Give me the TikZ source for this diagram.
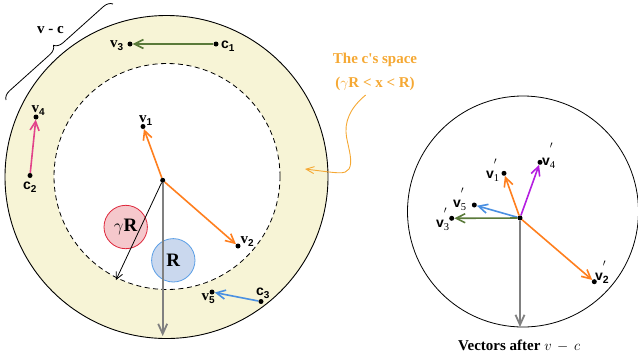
\documentclass[tikz,border=0pt]{standalone}
\usepackage{fontspec}
\setmainfont{Liberation Serif}
\setsansfont{Liberation Sans}
\usetikzlibrary{arrows.meta,decorations.pathreplacing}
\definecolor{annulus}{RGB}{247,244,214}
\definecolor{vorange}{RGB}{255,127,30}
\definecolor{vgreen}{RGB}{90,122,58}
\definecolor{vpink}{RGB}{226,68,138}
\definecolor{vblue}{RGB}{74,144,226}
\definecolor{vpurple}{RGB}{180,30,224}
\definecolor{vgray}{RGB}{128,128,128}
\definecolor{noteorange}{RGB}{245,168,51}
\definecolor{redfill}{RGB}{245,200,204}
\definecolor{redline}{RGB}{222,40,60}
\definecolor{bluefill}{RGB}{202,216,238}
\definecolor{blueline}{RGB}{90,158,230}
\newcommand{\Lv}[1]{\textbf{v}\raisebox{-3pt}{\fontsize{10}{10}\selectfont\sffamily\bfseries #1}}
\newcommand{\Lc}[1]{{\sffamily\bfseries c}\raisebox{-3pt}{\fontsize{10}{10}\selectfont\sffamily\bfseries #1}}
\newcommand{\Rprime}{\rlap{\raisebox{13.5pt}{$\scriptstyle\prime$}}}
\newcommand{\Rv}[1]{{\sffamily\bfseries v}\Rprime\raisebox{-3.5pt}{\fontsize{10.5}{10.5}\selectfont #1}}
\begin{document}
\begin{tikzpicture}[x=1pt,y=-1pt,
  pt/.style={circle,inner sep=0pt,minimum size=5pt},
  lab/.style={anchor=base west,inner sep=0pt,font=\fontsize{15}{15}\selectfont},
  rlab/.style={anchor=base west,inner sep=0pt,font=\fontsize{14}{14}\selectfont},
  vec/.style={line width=1.6pt,-{Straight Barb[length=9pt,width=9pt]}},
  grayvec/.style={line width=1.8pt,draw=vgray,-{Straight Barb[length=10pt,width=9pt]}},
  thinvec/.style={line width=0.8pt,-{Straight Barb[length=7pt,width=7pt]}},
  notevec/.style={line width=0.9pt,draw=noteorange,-{Straight Barb[length=8pt,width=7pt]}},
  ring/.style={circle,inner sep=0pt,minimum size=43.4pt,line width=0.8pt}
 ]
\useasboundingbox (0,0) rectangle (638,360);

% ---------- left picture ----------
\draw[line width=0.9pt,fill=annulus] (166.5,177) circle (161.5pt);
\draw[line width=0.8pt,fill=white,dash pattern=on 5pt off 3.5pt] (167,176.5) circle (113pt);

\node[ring,draw=redline,fill=redfill] (gR) at (125.7,227) {};
\node[ring,draw=blueline,fill=bluefill] (RR) at (173.3,260.3) {};

\node[pt] (O) at (162.7,180.3) {};
\node[pt] (c1) at (216,44) {};
\node[pt] (v3) at (130,44) {};
\node[pt] (v4) at (36,117) {};
\node[pt] (c2) at (30,175.5) {};
\node[pt] (v1) at (143,126.5) {};
\node[pt] (v2) at (238,246) {};
\node[pt] (v5) at (212,292) {};
\node[pt] (c3) at (261,301.5) {};
\coordinate (bot) at (162.7,336);
\coordinate (gend) at (116,280);

\draw[vec,vgreen] (c1) -- (v3);
\draw[vec,vpink] (c2) -- (v4);
\draw[vec,vorange] (O) -- (v1);
\draw[vec,vorange] (O) -- (v2);
\draw[vec,vblue] (c3) -- (v5);
\draw[grayvec] (O) -- (bot);
\draw[thinvec] (O) -- (gend);

\node[inner sep=0pt,font=\fontsize{19}{19}\selectfont] (gRt) at (gR) {$\gamma$\textbf{R}};
\node[inner sep=0pt,font=\fontsize{19}{19}\selectfont] (RRt) at (RR) {\textbf{R}};

\node[lab] (lv3) at (110,47) {\Lv{3}};
\node[lab,font=\fontsize{14}{14}\selectfont] (lc1) at (221,48) {\Lc{1}};
\node[lab] (lv4) at (31.5,112.5) {\Lv{4}};
\node[lab] (lv1) at (139,122) {\Lv{1}};
\node[lab,font=\fontsize{14}{14}\selectfont] (lc2) at (23,189) {\Lc{2}};
\node[lab] (lv2) at (240.5,243) {\Lv{2}};
\node[lab] (lv5) at (201.5,300.5) {\Lv{5}};
\node[lab,font=\fontsize{14}{14}\selectfont] (lc3) at (256,295) {\Lc{3}};

% brace
\coordinate (b1) at (6,100);
\coordinate (b2) at (113,4);
\draw[line width=0.8pt,decorate,decoration={brace,amplitude=9pt}] (b1) -- (b2);
\node[lab] (vc) at (37,33.3) {\textbf{v - c}};

% annotation
\node[inner sep=0pt,anchor=base,font=\fontsize{15}{15}\selectfont\bfseries,text=noteorange] (n1) at (375,63.3) {The c\textquotesingle s space};
\node[inner sep=0pt,anchor=base,font=\fontsize{15}{15}\selectfont\bfseries,text=noteorange] (n2) at (375,87) {($\gamma$R {<} x {<} R)};
\coordinate (a0) at (365.7,95);
\coordinate (a1) at (305,169);
\draw[notevec] (a0) .. controls (350,108) and (344,122) .. (346.5,137)
  .. controls (349,150) and (353,162) .. (349,169)
  .. controls (345,175) and (338,173) .. (a1);

% ---------- right picture ----------
\draw[line width=0.8pt] (523,211.5) circle (115.5pt);
\node[pt] (P) at (520,218) {};
\node[pt] (w1) at (504,173.3) {};
\node[pt] (w4) at (540,162.3) {};
\node[pt] (w5) at (474.3,205) {};
\node[pt] (w3) at (451.7,218.3) {};
\node[pt] (w2) at (594.3,281.7) {};
\coordinate (pbot) at (520,327);

\draw[grayvec] (P) -- (pbot);
\draw[vec,vorange] (P) -- (w1);
\draw[vec,vpurple] (P) -- (w4);
\draw[vec,vblue] (P) -- (w5);
\draw[vec,vgreen] (P) -- (w3);
\draw[vec,vorange] (P) -- (w2);

\node[rlab] (lw1) at (486,178) {\Rv{1}};
\node[rlab] (lw5) at (453,207) {\Rv{5}};
\node[rlab] (lw3) at (436,227) {\Rv{3}};
\node[rlab] (lw4) at (542,165) {{\sffamily\bfseries v}\rlap{\raisebox{17pt}{$\scriptstyle\prime$}}\raisebox{-3.5pt}{\fontsize{10.5}{10.5}\selectfont 4}};
\node[rlab] (lw2) at (595,280) {{\sffamily\bfseries v}\Rprime\raisebox{-3.5pt}{\fontsize{10.5}{10.5}\selectfont\sffamily\bfseries 2}};

\node[lab] (cap) at (458,350.7) {\textbf{Vectors after} $v\,-\,c$};

% dots on top
\foreach \n in {O,c1,v3,v4,c2,v1,v2,v5,c3,P,w1,w4,w5,w3,w2}
  \fill (\n.center) circle (2.5pt);
\end{tikzpicture}
\end{document}
